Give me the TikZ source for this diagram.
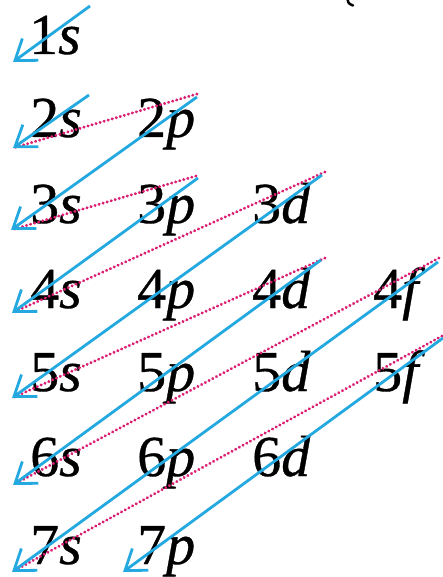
\documentclass[tikz,border=0pt]{standalone}
\usepackage{fontspec}
\setmainfont{Liberation Serif}
\newfontfamily\orbfont[FakeBold=0.6]{Liberation Serif}
\usetikzlibrary{arrows.meta}
\definecolor{orbblue}{RGB}{35,168,224}
\definecolor{orbpink}{RGB}{220,30,115}
\tikzset{
  orb/.style={anchor=base west, inner sep=0pt, font=\orbfont\fontsize{58}{62}\selectfont},
  bluearrow/.style={draw=orbblue, line width=2.8pt, -{Straight Barb[length=19pt,width=27pt]}},
  pinkdots/.style={draw=orbpink, line width=3pt, line cap=round, dash pattern=on 0.3pt off 3.9pt},
}
\begin{document}
\begin{tikzpicture}[x=1pt,y=-1pt]
\useasboundingbox (0,0) rectangle (442,577);
% orbital labels
\node[orb] (s1) at (29,54) {\textup{1}\textit{s}};
\node[orb] (s2) at (30,137) {\textup{2}\textit{s}};
\node[orb] (p2) at (137,137) {\textup{2}\textit{p}};
\node[orb] (s3) at (30,223) {\textup{3}\textit{s}};
\node[orb] (p3) at (137,223) {\textup{3}\textit{p}};
\node[orb] (d3) at (252,223) {\textup{3}\textit{d}};
\node[orb] (s4) at (30,308) {\textup{4}\textit{s}};
\node[orb] (p4) at (137,308) {\textup{4}\textit{p}};
\node[orb] (d4) at (252,308) {\textup{4}\textit{d}};
\node[orb] (f4) at (373,308) {\textup{4}\textit{f}};
\node[orb] (s5) at (30,391) {\textup{5}\textit{s}};
\node[orb] (p5) at (137,391) {\textup{5}\textit{p}};
\node[orb] (d5) at (252,391) {\textup{5}\textit{d}};
\node[orb] (f5) at (373,391) {\textup{5}\textit{f}};
\node[orb] (s6) at (30,476) {\textup{6}\textit{s}};
\node[orb] (p6) at (137,476) {\textup{6}\textit{p}};
\node[orb] (d6) at (252,476) {\textup{6}\textit{d}};
\node[orb] (s7) at (30,564) {\textup{7}\textit{s}};
\node[orb] (p7) at (137,564) {\textup{7}\textit{p}};
% arrow starts and tips
\coordinate (b1) at (90,6);
\coordinate (t1) at (13,62);
\coordinate (b2) at (89,95);
\coordinate (t2) at (13,148);
\coordinate (b3) at (197,97);
\coordinate (t3) at (11,230);
\coordinate (b4) at (198,178);
\coordinate (t4) at (12,313);
\coordinate (b5) at (322,175);
\coordinate (t5) at (12,398);
\coordinate (b6) at (321,260);
\coordinate (t6) at (13,485);
\coordinate (b7) at (438,262);
\coordinate (t7) at (12,572);
\coordinate (b8) at (443,338);
\coordinate (t8) at (123,572);
% pink starts
\coordinate (q3) at (197,94);
\coordinate (q4) at (196,176);
\coordinate (q5) at (325,172);
\coordinate (q6) at (325,258);
\coordinate (q7) at (439,258);
\coordinate (q8) at (442,336);
% pink dotted connectors
\draw[pinkdots] (q3) -- (t2);
\draw[pinkdots] (q4) -- (t3);
\draw[pinkdots] (q5) -- (t4);
\draw[pinkdots] (q6) -- (t5);
\draw[pinkdots] (q7) -- (t6);
\draw[pinkdots] (q8) -- (t7);
% blue arrows
\draw[bluearrow] (b1) -- (t1);
\draw[bluearrow] (b2) -- (t2);
\draw[bluearrow] (b3) -- (t3);
\draw[bluearrow] (b4) -- (t4);
\draw[bluearrow] (b5) -- (t5);
\draw[bluearrow] (b6) -- (t6);
\draw[bluearrow] (b7) -- (t7);
\draw[bluearrow] (b8) -- (t8);
% stray mark at top
\draw[line width=2.5pt, line cap=round] (347.5,-1) .. controls (348.5,3.5) .. (353,5.5);
\end{tikzpicture}
\end{document}
